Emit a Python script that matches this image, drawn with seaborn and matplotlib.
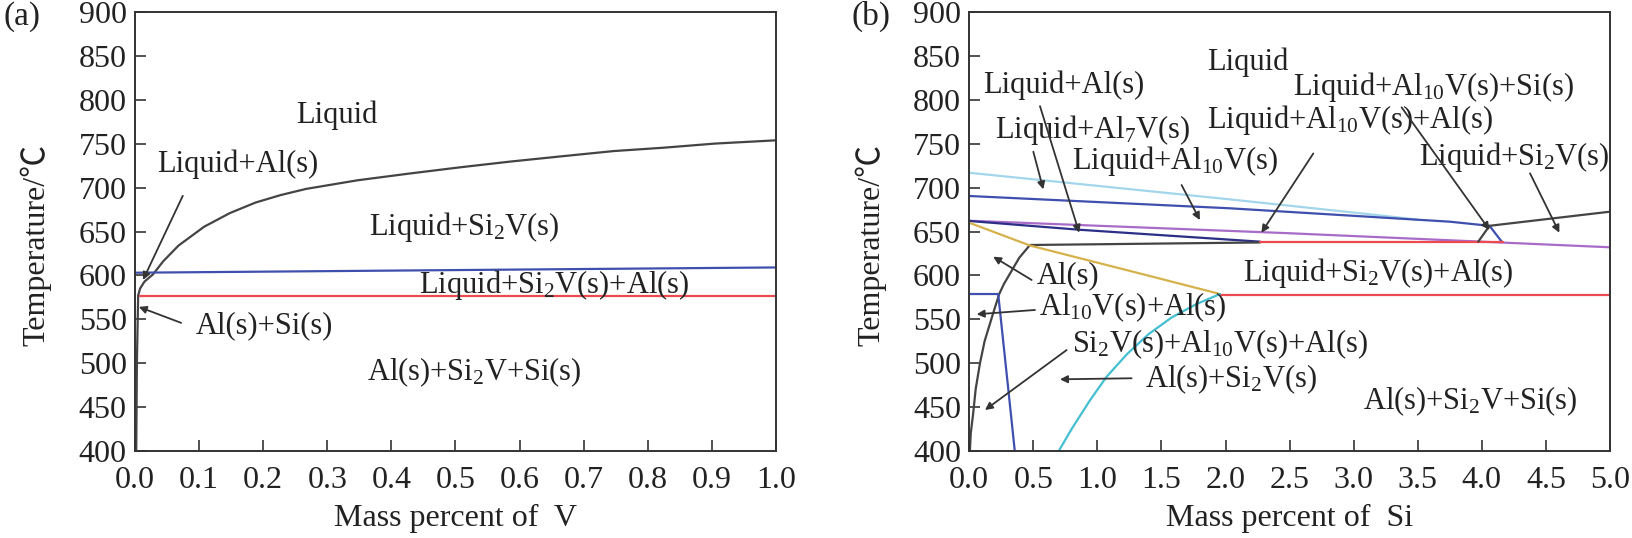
import matplotlib
matplotlib.use("Agg")
import matplotlib.pyplot as plt
import seaborn as sns

# ── panel (a): Al-Si-V section vs. V ──────────────────────────────────────
liq_v = [0.005, 0.008, 0.015, 0.028, 0.044, 0.068, 0.108, 0.148, 0.188, 0.227,
         0.267, 0.347, 0.427, 0.507, 0.586, 0.666, 0.746, 0.825, 0.905, 1.0]
liq_T = [577, 585, 593, 601, 616, 634, 655.5, 671, 683, 691.5,
         698.6, 708.4, 716, 723.2, 729.8, 735.8, 741.7, 745.6, 750.3, 754]
sol_v = [0.002, 0.003, 0.005]
sol_T = [400, 500, 577]
blue_a_v = [0.0, 1.0]
blue_a_T = [603, 609]
red_a_v = [0.008, 1.0]
red_a_T = [577, 577]

# ── panel (b): section vs. Si ─────────────────────────────────────────────
lblue_s = [0.0, 2.03, 3.18, 3.5]
lblue_T = [717, 686.7, 668.8, 663.5]
blue_s = [0.0, 2.03, 3.75, 4.06, 4.155]
blue_T = [690.5, 676.5, 661.2, 656.5, 638.5]
purple_s = [0.0, 2.5, 5.0]
purple_T = [662.3, 648, 632]
navy_s = [0.0, 0.86, 2.27]
navy_T = [662, 652, 638.4]
blk_up_s = [0.474, 2.27]
blk_up_T = [634.6, 637.5]
red_up_s = [2.27, 4.165]
red_up_T = [638.2, 638.2]
al_s = [0.005, 0.012, 0.031, 0.05, 0.084, 0.12, 0.187, 0.234, 0.27, 0.318, 0.39, 0.474]
al_T = [400, 420, 443, 470, 500, 525, 557, 578.7, 590, 602, 620, 634.6]
yel_s = [0.0, 0.474, 1.228, 1.957]
yel_T = [660, 634, 606, 578.7]
blue_lo_s = [0.0, 0.226, 0.308, 0.355]
blue_lo_T = [578.7, 578.7, 465.5, 400]
red_lo_s = [1.957, 5.0]
red_lo_T = [577.6, 577.6]
cyan_s = [0.70, 0.80, 0.94, 1.07, 1.23, 1.40, 1.58, 1.77, 1.957]
cyan_T = [400, 425, 457, 484, 510, 533, 552, 567, 578.7]
tri_s = [3.972, 4.06, 5.0]
tri_T = [638.4, 656.5, 672.6]

a_xticks = [round(0.1 * i, 1) for i in range(11)]
b_xticks = [0.5 * i for i in range(11)]
yticks = list(range(400, 901, 50))

sns.set_theme(style="ticks")
plt.rcParams["font.family"] = ["Liberation Serif", "DejaVu Serif"]
plt.rcParams["mathtext.fontset"] = "custom"
plt.rcParams["mathtext.rm"] = "Liberation Serif"
plt.rcParams["mathtext.default"] = "regular"

INK = "#333333"
TXT = "#222222"
C_BLUE = "#3f4fae"
C_RED = "#ec4a50"
C_LBLUE = "#a3d6ea"
C_NAVY = "#2b2f86"
C_PURPLE = "#a86cc8"
C_YEL = "#d6b24c"
C_CYAN = "#44bfd2"
C_BLK = "#444444"

fig = plt.figure(figsize=(16.32, 5.38), dpi=100)
ax_a = fig.add_axes([0.0827, 0.1623, 0.3928, 0.8148])
ax_b = fig.add_axes([0.5939, 0.1623, 0.3926, 0.8148])


def line(ax, x, y, color, lw=1.6):
    sns.lineplot(x=x, y=y, ax=ax, color=color, lw=lw, sort=False,
                 estimator=None, legend=False)


def arrow(ax, tail, head):
    ax.annotate("", xy=head, xytext=tail,
                arrowprops=dict(arrowstyle="-|>", color=INK, lw=1.3,
                                mutation_scale=11, shrinkA=0, shrinkB=0))


def style(ax, xticks, xmax, xlabel, tag, tag_x):
    ax.set_xlim(0, xmax)
    ax.set_ylim(400, 900)
    ax.set_xticks(xticks)
    ax.set_xticklabels([f"{t:.1f}" for t in xticks])
    ax.set_yticks(yticks)
    ax.tick_params(direction="in", length=8, width=1.2, color=INK,
                   labelsize=23, labelcolor=TXT, pad=6,
                   top=False, right=False)
    ax.tick_params(axis="x", pad=11)
    for sp in ax.spines.values():
        sp.set_color(INK)
        sp.set_linewidth(1.4)
    ax.set_xlabel(xlabel, fontsize=23, color=TXT)
    ax.set_ylabel("Temperature/℃", fontsize=23, color=TXT,
                  family=["Liberation Serif", "Noto Sans CJK SC"])
    ax.xaxis.set_label_coords(0.5, -0.122)
    ax.yaxis.set_label_coords(-0.13, 0.47)
    fig.text(tag_x, 0.969, tag, fontsize=24, ha="center", va="center",
             color=TXT)


fs = 22

# panel (a)
line(ax_a, liq_v, liq_T, C_BLK)
line(ax_a, sol_v, sol_T, C_BLK)
line(ax_a, blue_a_v, blue_a_T, C_BLUE)
line(ax_a, red_a_v, red_a_T, C_RED)

labels_a = [
    ("Liquid", 0.315, 783),
    ("Liquid+Al(s)", 0.16, 727),
    ("Liquid+Si$_2$V(s)", 0.513, 655),
    ("Liquid+Si$_2$V(s)+Al(s)", 0.654, 589),
    ("Al(s)+Si(s)", 0.202, 542),
    ("Al(s)+Si$_2$V+Si(s)", 0.529, 490),
]
for txt, x, y in labels_a:
    ax_a.text(x, y, txt, fontsize=fs, ha="center", va="center", color=TXT)
arrow(ax_a, (0.0746, 690.7), (0.0125, 594.7))
arrow(ax_a, (0.072, 545.8), (0.006, 564))
style(ax_a, a_xticks, 1.0, "Mass percent of  V", "(a)", 0.0136)

# panel (b)
line(ax_b, lblue_s, lblue_T, C_LBLUE)
line(ax_b, blue_s, blue_T, C_BLUE)
line(ax_b, purple_s, purple_T, C_PURPLE)
line(ax_b, navy_s, navy_T, C_NAVY)
line(ax_b, blk_up_s, blk_up_T, C_BLK)
line(ax_b, red_up_s, red_up_T, C_RED)
line(ax_b, al_s, al_T, C_BLK)
line(ax_b, yel_s, yel_T, C_YEL)
line(ax_b, blue_lo_s, blue_lo_T, C_BLUE)
line(ax_b, red_lo_s, red_lo_T, C_RED)
line(ax_b, cyan_s, cyan_T, C_CYAN)
line(ax_b, tri_s, tri_T, C_BLK)

labels_b = [
    ("Liquid", 2.17, 843),
    ("Liquid+Al(s)", 0.741, 817),
    ("Liquid+Al$_{10}$V(s)+Si(s)", 3.62, 815),
    ("Liquid+Al$_7$V(s)", 0.961, 766),
    ("Liquid+Al$_{10}$V(s)+Al(s)", 2.971, 777),
    ("Liquid+Al$_{10}$V(s)", 1.605, 730),
    ("Liquid+Si$_2$V(s)", 4.251, 735),
    ("Liquid+Si$_2$V(s)+Al(s)", 3.19, 603),
    ("Al(s)", 0.769, 599),
    ("Al$_{10}$V(s)+Al(s)", 1.274, 564),
    ("Si$_2$V(s)+Al$_{10}$V(s)+Al(s)", 1.956, 521),
    ("Al(s)+Si$_2$V(s)", 2.04, 481),
    ("Al(s)+Si$_2$V+Si(s)", 3.91, 456),
]
for txt, x, y in labels_b:
    ax_b.text(x, y, txt, fontsize=fs, ha="center", va="center", color=TXT)

arrow(ax_b, (0.552, 793), (0.858, 648.6))
arrow(ax_b, (0.50, 741), (0.578, 698))
arrow(ax_b, (1.657, 703), (1.80, 663))
arrow(ax_b, (2.685, 739), (2.28, 648.6))
arrow(ax_b, (3.374, 791.6), (4.06, 651.7))
arrow(ax_b, (4.376, 716.4), (4.605, 648.6))
arrow(ax_b, (0.487, 594.7), (0.187, 621.3))
arrow(ax_b, (0.513, 560.5), (0.058, 555.6))
arrow(ax_b, (0.76, 514.8), (0.123, 446.4))
arrow(ax_b, (1.267, 482.6), (0.708, 481.4))
style(ax_b, b_xticks, 5.0, "Mass percent of  Si", "(b)", 0.5336)

fig.savefig("out.png", dpi=100)
